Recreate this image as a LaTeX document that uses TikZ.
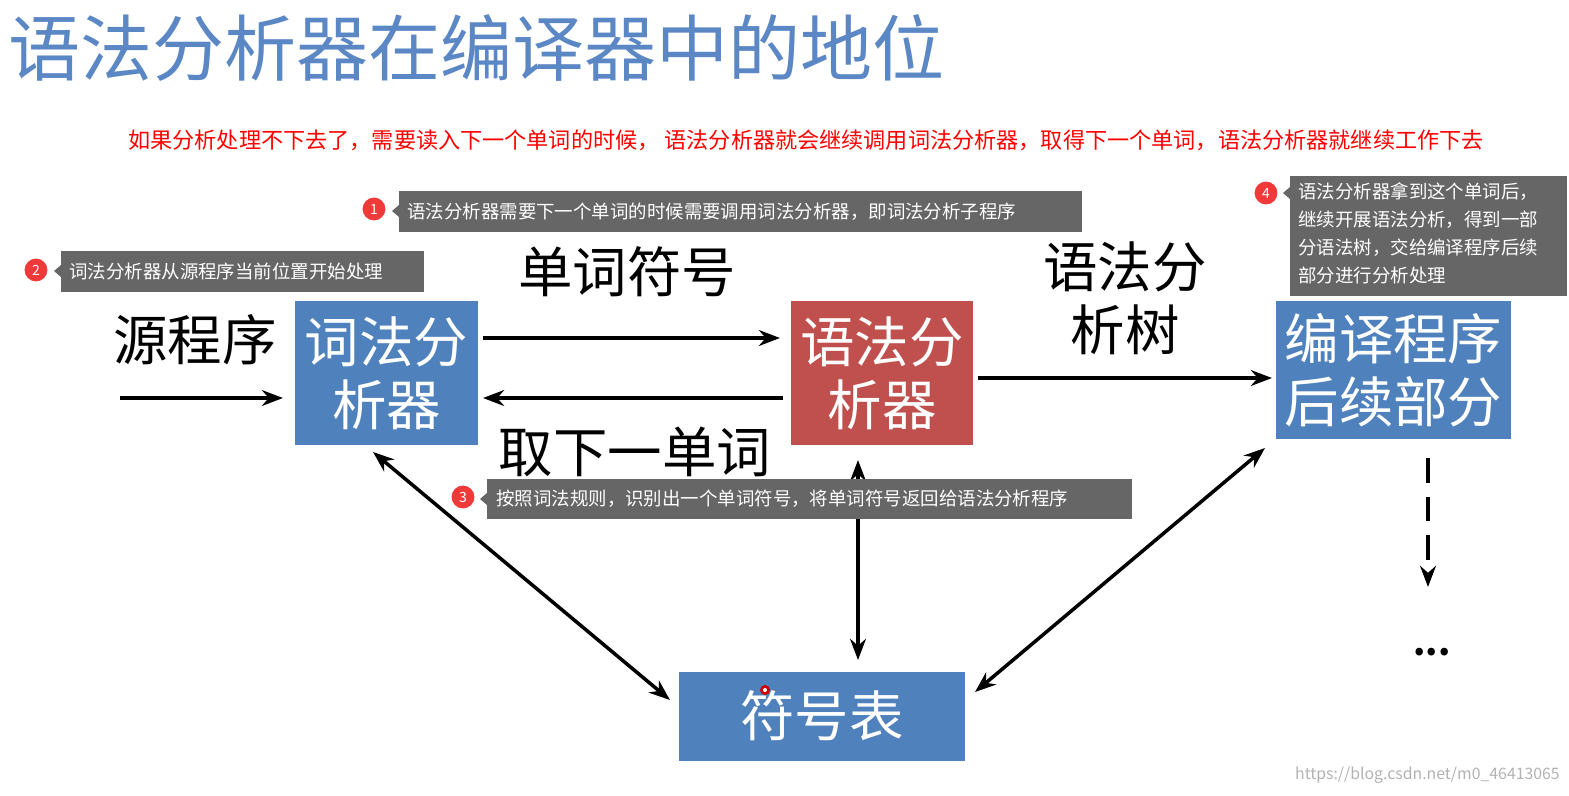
\documentclass[tikz,border=0pt]{standalone}
\usepackage{fontspec}
\setmainfont{Noto Sans CJK SC}
\newfontfamily\cjk{Noto Sans CJK SC}
\usetikzlibrary{arrows.meta}
\definecolor{tblue}{HTML}{5B87C5}
\definecolor{bblue}{HTML}{4F81BD}
\definecolor{bred}{HTML}{C0504D}
\definecolor{cgray}{HTML}{666666}
\definecolor{cred}{HTML}{F03A3A}
\tikzset{
 box/.style={inner sep=0pt,text=white,font=\fontsize{31}{36}\selectfont,align=center},
 lbl/.style={font=\fontsize{31}{36}\selectfont,align=center,inner sep=0pt},
 arr/.style={-{Stealth[length=12pt,width=9pt]},line width=2pt},
 darr/.style={{Stealth[length=12pt,width=9pt]}-{Stealth[length=12pt,width=9pt]},line width=2pt},
 call/.style={fill=cgray,text=white,font=\fontsize{10.5}{15}\selectfont,anchor=north west,inner sep=0pt},
 num/.style={circle,fill=cred,text=white,minimum size=13pt,inner sep=0pt,font=\fontsize{8}{8}\selectfont},
}
\begin{document}
\begin{tikzpicture}[x=0.02cm,y=-0.02cm]
\useasboundingbox (0,0) rectangle (1569,795);
\node[anchor=west,text=tblue,font=\fontsize{41}{45}\selectfont,inner sep=0pt] (title) at (8,48) {语法分析器在编译器中的地位};
\node[anchor=west,text=red,font=\fontsize{12.6}{15}\selectfont,inner sep=0pt] (note) at (128,140) {如果分析处理不下去了，需要读入下一个单词的时候， 语法分析器就会继续调用词法分析器，取得下一个单词，语法分析器就继续工作下去};
% boxes
\fill[bblue] (295,301) rectangle (478,445);
\node[box] (lex) at (386.5,373) {词法分\\析器};
\fill[bred] (791,301) rectangle (973,445);
\node[box] (syn) at (882,373) {语法分\\析器};
\fill[bblue] (1276,301) rectangle (1511,439);
\node[box] (post) at (1393.5,370) {编译程序\\后续部分};
\fill[bblue] (679,672) rectangle (965,761);
\node[box] (tab) at (822,716) {符号表};
\fill[red!80!black] (765,690) circle (5);
\fill[white] (765,690) circle (2);
% labels
\node[lbl] (src) at (195,340) {源程序};
\node[lbl] (tok) at (627,272) {单词符号};
\node[lbl] (next) at (635,452) {取下一单词};
\node[lbl] (tree) at (1125,298) {语法分\\析树};
% arrows
\coordinate (s0) at (120,398); \coordinate (s1) at (283,398);
\draw[arr] (s0) -- (s1);
\coordinate (a0) at (483,338); \coordinate (a1) at (780,338);
\draw[arr] (a0) -- (a1);
\coordinate (b0) at (783,398); \coordinate (b1) at (483,398);
\draw[arr] (b0) -- (b1);
\coordinate (c0) at (978,378); \coordinate (c1) at (1272,378);
\draw[arr] (c0) -- (c1);
\coordinate (d0) at (373,452); \coordinate (d1) at (670,700);
\draw[darr] (d0) -- (d1);
\coordinate (e0) at (858,460); \coordinate (e1) at (858,660);
\draw[darr] (e0) -- (e1);
\coordinate (f0) at (1265,448); \coordinate (f1) at (975,692);
\draw[darr] (f0) -- (f1);
\coordinate (g0) at (1428,458); \coordinate (g1) at (1428,587);
\draw[arr,dash pattern=on 14pt off 8pt] (g0) -- (g1);
\node[font=\fontsize{20}{20}\selectfont\bfseries,inner sep=0pt] (dots) at (1432,652) {...};
% callouts
\fill[cgray] (399,191) rectangle (1082,232); \fill[cgray] (399,205) -- (392,211) -- (399,217) -- cycle;
\node[call,anchor=west] (c1t) at (407,211.5) {语法分析器需要下一个单词的时候需要调用词法分析器，即词法分析子程序};
\node[num] (n1) at (374,209) {1};
\fill[cgray] (61,251) rectangle (424,292); \fill[cgray] (61,265) -- (54,271) -- (61,277) -- cycle;
\node[call,anchor=west] (c2t) at (69,271.5) {词法分析器从源程序当前位置开始处理};
\node[num] (n2) at (36,270) {2};
\fill[cgray] (487,479) rectangle (1132,519); \fill[cgray] (487,493) -- (480,499) -- (487,505) -- cycle;
\node[call,anchor=west] (c3t) at (496,499) {按照词法规则，识别出一个单词符号，将单词符号返回给语法分析程序};
\node[num] (n3) at (463,497) {3};
\fill[cgray] (1290,176) rectangle (1567,296); \fill[cgray] (1290,187) -- (1283,193) -- (1290,199) -- cycle;
\node[call,align=left,font=\fontsize{10.5}{16}\selectfont] (c4t) at (1298,182) {语法分析器拿到这个单词后，\\继续开展语法分析，得到一部\\分语法树，交给编译程序后续\\部分进行分析处理};
\node[num] (n4) at (1266,193) {4};
\node[anchor=east,text=gray!60,font=\fontsize{9}{10}\selectfont,inner sep=0pt] (wm) at (1560,775) {https://blog.csdn.net/m0\_46413065};
\end{tikzpicture}
\end{document}
